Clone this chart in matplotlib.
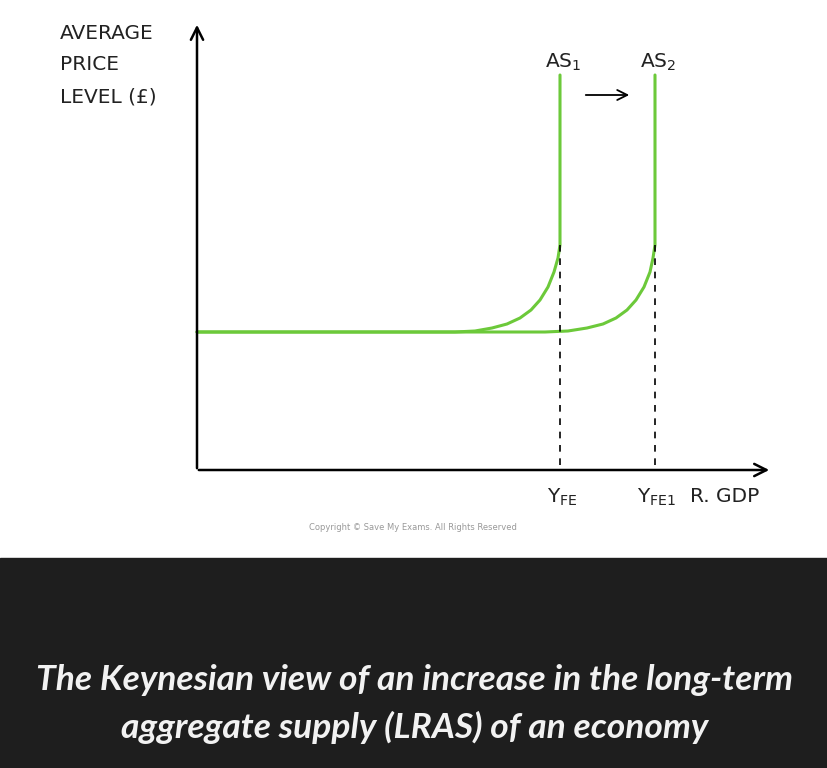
import matplotlib.pyplot as plt
from matplotlib.patches import Rectangle

# schematic curves, in picture pixels (x right, y down)
as1_x = [197, 455, 475, 492, 507, 520, 531, 540, 548, 554, 558, 560, 560]
as1_y = [332, 332, 331, 328, 324, 318, 310, 300, 287, 272, 258, 245, 75]
as2_x = [197, 545, 568, 587, 603, 616, 627, 636, 644, 650, 653, 655, 655]
as2_y = [332, 332, 331, 328, 324, 318, 310, 300, 287, 272, 258, 245, 75]
yfe_x = [560, 655]
kink_y = 245

green = '#6cc93a'
fig = plt.figure(figsize=(8.28, 7.68), dpi=100)
ax = fig.add_axes([0, 0, 1, 1])
ax.set_xlim(0, 828)
ax.set_ylim(768, 0)
ax.axis('off')

ax.add_patch(Rectangle((0, 558), 828, 210, color='#1e1e1e', zorder=0))

# axes arrows
ax.annotate('', xy=(197, 22), xytext=(197, 471),
            arrowprops=dict(arrowstyle='->', lw=1.8, color='black', mutation_scale=22))
ax.annotate('', xy=(772, 470), xytext=(196, 470),
            arrowprops=dict(arrowstyle='->', lw=1.8, color='black', mutation_scale=22))

ax.plot(as2_x, as2_y, color=green, lw=2.2, solid_capstyle='round')
ax.plot(as1_x, as1_y, color=green, lw=2.2, solid_capstyle='round')
for x in yfe_x:
    ax.plot([x, x], [kink_y, 470], color='black', lw=1.2, ls=(0, (4, 4)))

ax.annotate('', xy=(632, 95), xytext=(583, 95),
            arrowprops=dict(arrowstyle='->', lw=1.3, color='black', mutation_scale=18))

kw = dict(fontsize=14.5, color='#222222', family='DejaVu Sans')
ax.text(60, 65, 'AVERAGE\nPRICE\nLEVEL (£)', va='center', ha='left', linespacing=1.85, **kw)
ax.text(563, 62, r'AS$_1$', ha='center', va='center', **kw)
ax.text(658, 62, r'AS$_2$', ha='center', va='center', **kw)
ax.text(562, 497, r'Y$_{\mathrm{FE}}$', ha='center', va='center', **kw)
ax.text(657, 497, r'Y$_{\mathrm{FE1}}$', ha='center', va='center', **kw)
ax.text(690, 497, 'R. GDP', ha='left', va='center', **kw)
ax.text(413, 527, 'Copyright © Save My Exams. All Rights Reserved', ha='center',
        va='center', fontsize=6, color='#999999')

cap = dict(ha='center', va='center', color='#f2f2f2', fontsize=25.5, fontweight='bold',
           style='italic', family=['Lato', 'DejaVu Sans'])
ax.text(415, 680, 'The Keynesian view of an increase in the long-term', **cap)
ax.text(415, 727, 'aggregate supply (LRAS) of an economy', **cap)

fig.savefig('out.png', dpi=100)
